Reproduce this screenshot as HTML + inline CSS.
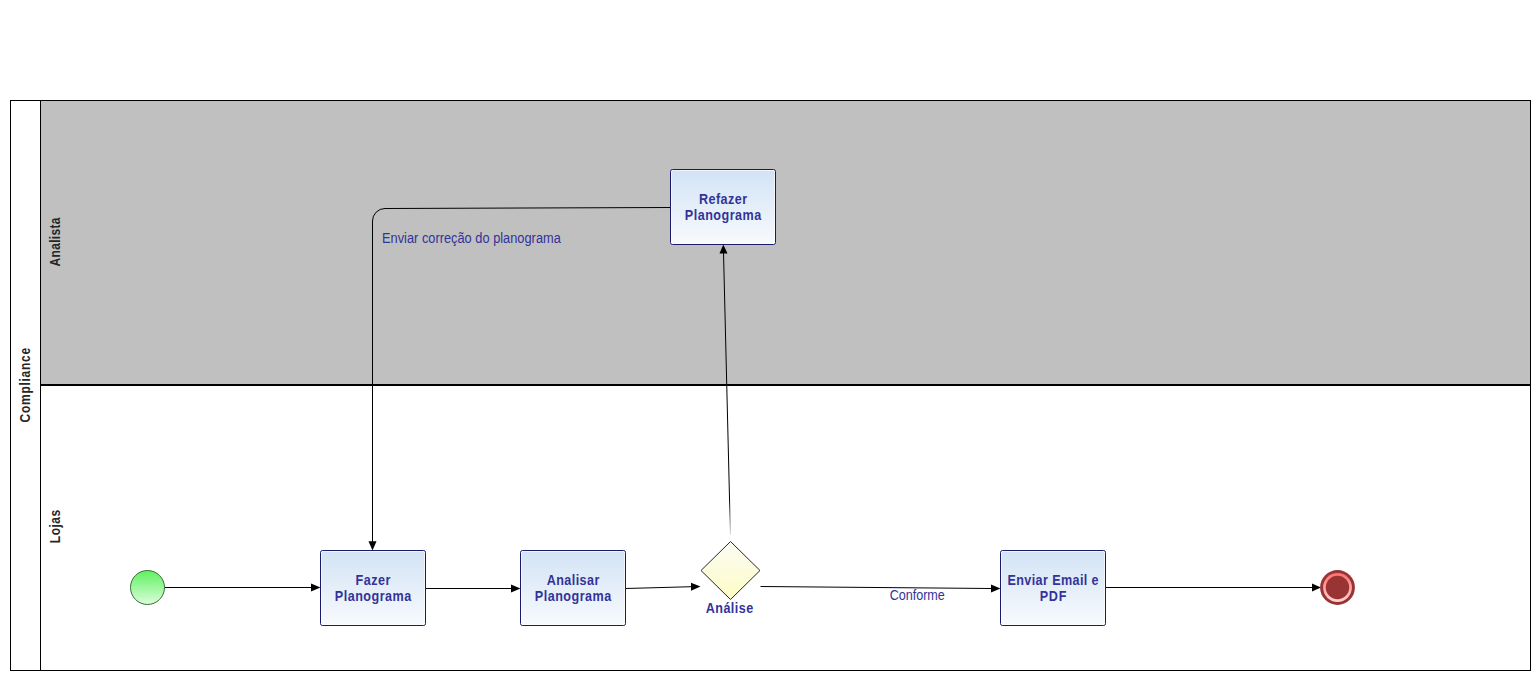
<!DOCTYPE html>
<html>
<head>
<meta charset="utf-8">
<style>
html,body{margin:0;padding:0;background:#fff;width:1536px;height:676px;overflow:hidden;}
svg{display:block;}
text{font-family:"Liberation Sans",sans-serif;}
</style>
</head>
<body>
<svg width="1536" height="676" viewBox="0 0 1536 676">
<defs>
  <linearGradient id="gTask" x1="0" y1="0" x2="0" y2="1">
    <stop offset="0" stop-color="#d2e3f5"/>
    <stop offset="1" stop-color="#f8fafd"/>
  </linearGradient>
  <linearGradient id="gStart" x1="0" y1="0" x2="0" y2="1">
    <stop offset="0" stop-color="#5ff25f"/>
    <stop offset="1" stop-color="#dcfcdc"/>
  </linearGradient>
  <linearGradient id="gEnd" x1="0" y1="0" x2="0" y2="1">
    <stop offset="0" stop-color="#ff7070"/>
    <stop offset="1" stop-color="#ffd4d4"/>
  </linearGradient>
  <linearGradient id="gGw" x1="0" y1="0" x2="0" y2="1">
    <stop offset="0" stop-color="#fbfbf4"/>
    <stop offset="1" stop-color="#fdfdc6"/>
  </linearGradient>
  <linearGradient id="gFade" gradientUnits="userSpaceOnUse" x1="0" y1="500" x2="0" y2="536">
    <stop offset="0" stop-color="#000" stop-opacity="1"/>
    <stop offset="1" stop-color="#000" stop-opacity="0.1"/>
  </linearGradient>
</defs>

<!-- pool -->
<rect x="41" y="101" width="1489" height="283" fill="#c0c0c0"/>
<rect x="10.5" y="100.5" width="1520" height="570" fill="none" stroke="#000" stroke-width="1"/>
<line x1="40.5" y1="100" x2="40.5" y2="671" stroke="#000" stroke-width="1"/>
<line x1="40" y1="385" x2="1531" y2="385" stroke="#000" stroke-width="2"/>

<!-- lane labels -->
<g font-weight="bold" font-size="12" fill="#262626" text-anchor="middle">
  <text transform="translate(29.8,385.2) rotate(-90) scale(1,1.28)" textLength="74.5" lengthAdjust="spacing">Compliance</text>
  <text transform="translate(59.9,242) rotate(-90) scale(1,1.28)" textLength="49" lengthAdjust="spacing">Analista</text>
  <text transform="translate(59.5,526.5) rotate(-90) scale(1,1.28)" textLength="33.5" lengthAdjust="spacing">Lojas</text>
</g>

<!-- flows -->
<g stroke="#000" stroke-width="1" fill="none">
  <line x1="164.5" y1="587.5" x2="312" y2="587.5"/>
  <line x1="425.5" y1="588.5" x2="512" y2="588.5"/>
  <line x1="625.5" y1="588.5" x2="692" y2="586.7"/>
  <line x1="760.5" y1="586.5" x2="992" y2="588.5"/>
  <line x1="1105.5" y1="587.5" x2="1313" y2="587.5"/>
  <line x1="730.4" y1="535" x2="723.5" y2="252" stroke="url(#gFade)"/>
  <path d="M670,207.5 L385,208.5 A12.5,12.5 0 0 0 372.5,221 L372.5,542"/>
</g>
<g fill="#000">
  <polygon points="311,583.5 320.5,587.5 311,591.5"/>
  <polygon points="511,584.5 520.5,588.5 511,592.5"/>
  <polygon points="691,582.7 700.5,586.5 691,590.7"/>
  <polygon points="991,584.5 1000.5,588.5 991,592.5"/>
  <polygon points="1312,583.5 1321,587.5 1312,591.5"/>
  <polygon points="719.5,253.5 723.3,244.5 727.5,253.5"/>
  <polygon points="368.5,541.3 372.5,550.5 376.5,541.3"/>
</g>

<!-- tasks -->
<g stroke="#1a1a6c" stroke-width="1" fill="url(#gTask)">
  <rect x="670.5" y="169.5" width="105" height="75" rx="2"/>
  <rect x="320.5" y="550.5" width="105" height="75" rx="2"/>
  <rect x="520.5" y="550.5" width="105" height="75" rx="2"/>
  <rect x="1000.5" y="550.5" width="105" height="75" rx="2"/>
</g>
<g stroke="#fff" stroke-opacity="0.6" stroke-width="1" fill="none">
  <rect x="671.5" y="170.5" width="103" height="73" rx="1"/>
  <rect x="321.5" y="551.5" width="103" height="73" rx="1"/>
  <rect x="521.5" y="551.5" width="103" height="73" rx="1"/>
  <rect x="1001.5" y="551.5" width="103" height="73" rx="1"/>
</g>
<g font-weight="bold" font-size="12.6" fill="#333399" text-anchor="middle">
  <text transform="translate(723,204) scale(1,1.14)" textLength="48.17" lengthAdjust="spacing">Refazer</text>
  <text transform="translate(723,220) scale(1,1.14)" textLength="76.32" lengthAdjust="spacing">Planograma</text>
  <text transform="translate(373,585) scale(1,1.14)" textLength="34.83" lengthAdjust="spacing">Fazer</text>
  <text transform="translate(373,601) scale(1,1.14)" textLength="76.32" lengthAdjust="spacing">Planograma</text>
  <text transform="translate(573,585) scale(1,1.14)" textLength="52.62" lengthAdjust="spacing">Analisar</text>
  <text transform="translate(573,601) scale(1,1.14)" textLength="76.32" lengthAdjust="spacing">Planograma</text>
  <text transform="translate(1053,585) scale(1,1.14)" textLength="91.16" lengthAdjust="spacing">Enviar Email e</text>
  <text transform="translate(1053,601) scale(1,1.14)" textLength="26.67" lengthAdjust="spacing">PDF</text>
  <text transform="translate(729.5,613) scale(1,1.14)" textLength="47.43" lengthAdjust="spacing">Análise</text>
</g>
<g fill="#333399">
  <text transform="translate(382,243) scale(1,1.13)" font-size="12.8" textLength="178.8" lengthAdjust="spacing">Enviar correção do planograma</text>
  <text transform="translate(889.8,600) scale(1,1.13)" font-size="12.6" textLength="55" lengthAdjust="spacing">Conforme</text>
</g>

<!-- gateway -->
<polygon points="730.5,541.5 760,570.5 730.5,599.5 701,570.5" fill="url(#gGw)" stroke="#262626" stroke-width="1"/>

<!-- start event -->
<circle cx="147.5" cy="587.5" r="17" fill="url(#gStart)" stroke="#3a6e3a" stroke-width="1"/>

<!-- end event -->
<circle cx="1337.5" cy="587.5" r="17.4" fill="#983434"/>
<circle cx="1337.5" cy="587.5" r="14.4" fill="url(#gEnd)"/>
<circle cx="1337.5" cy="587.5" r="11.7" fill="#983434"/>
</svg>
</body>
</html>
